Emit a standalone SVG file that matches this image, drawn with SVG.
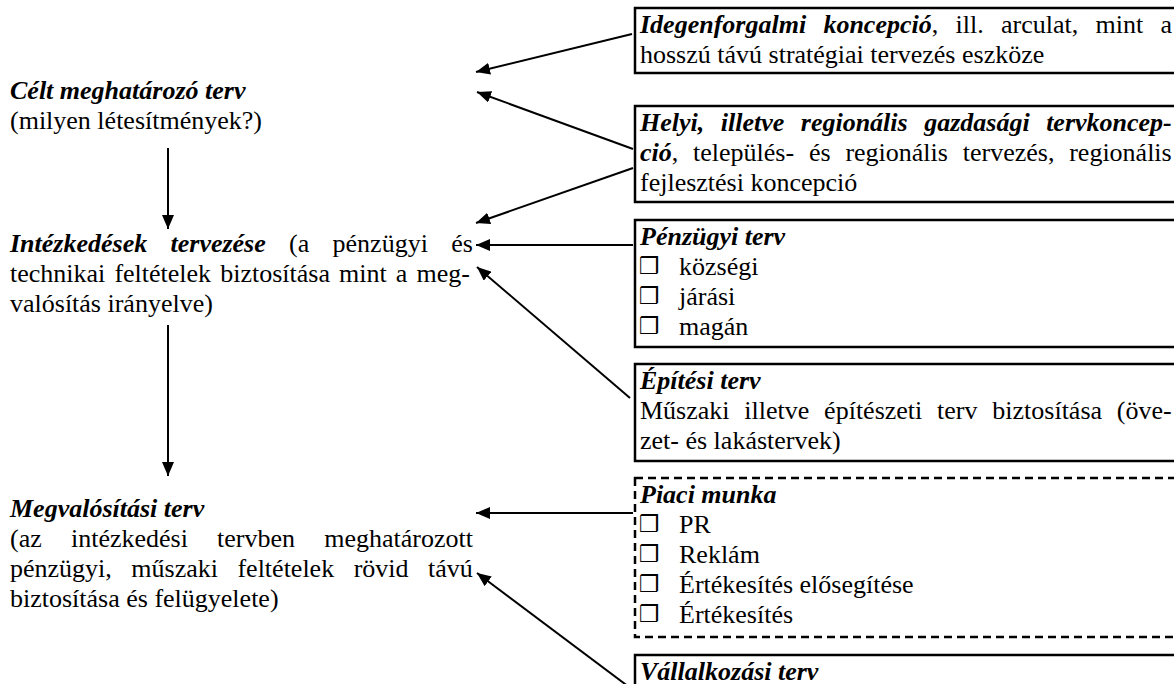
<svg xmlns="http://www.w3.org/2000/svg" width="1174" height="684" viewBox="0 0 1174 684">
<defs>
<style>
text{font-family:"Liberation Serif","Times New Roman",serif;font-size:26px;fill:#000}
.bi{font-weight:bold;font-style:italic}
.bul{font-family:"DejaVu Sans",sans-serif;font-size:23px}
.box{fill:#fff;stroke:#000;stroke-width:2.5}
.dash{fill:#fff;stroke:#000;stroke-width:2.5;stroke-dasharray:8 5}
.con line{stroke:#000;stroke-width:2;marker-end:url(#ah)}
</style>
<marker id="ah" markerUnits="userSpaceOnUse" markerWidth="16" markerHeight="12" refX="14" refY="6" orient="auto">
<path d="M0,0 L14,6 L0,12 Z" fill="#000"/>
</marker>
</defs>
<rect width="1174" height="684" fill="#fff"/>

<g id="celt">
<text x="10" y="99" class="bi">Célt meghatározó terv</text>
<text x="10" y="129">(milyen létesítmények?)</text>
</g>

<g id="intezkedesek">
<text x="10" y="252" style="word-spacing:16.8px"><tspan class="bi">Intézkedések tervezése</tspan> (a pénzügyi és</text>
<text x="10" y="282" style="word-spacing:2.6px">technikai feltételek biztosítása mint a meg-</text>
<text x="10" y="312">valósítás irányelve)</text>
</g>

<g id="megvalositasi">
<text x="10" y="517" class="bi">Megvalósítási terv</text>
<text x="10" y="547" style="word-spacing:22.7px">(az intézkedési tervben meghatározott</text>
<text x="10" y="577" style="word-spacing:13px">pénzügyi, műszaki feltételek rövid távú</text>
<text x="10" y="607">biztosítása és felügyelete)</text>
</g>

<g id="idegenforgalmi">
<rect class="box" x="635" y="8" width="560" height="65"/>
<text x="640" y="33" style="word-spacing:10.8px"><tspan class="bi">Idegenforgalmi koncepció</tspan>, ill. arculat, mint a</text>
<text x="640" y="63">hosszú távú stratégiai tervezés eszköze</text>
</g>

<g id="helyi">
<rect class="box" x="635" y="106" width="560" height="96"/>
<text x="640" y="131" class="bi" style="word-spacing:10px">Helyi, illetve regionális gazdasági tervkoncep-</text>
<text x="640" y="161" style="word-spacing:8.3px"><tspan class="bi">ció</tspan>, település- és regionális tervezés, regionális</text>
<text x="640" y="191">fejlesztési koncepció</text>
</g>

<g id="penzugyi">
<rect class="box" x="635" y="220" width="560" height="127"/>
<text x="640" y="245" class="bi">Pénzügyi terv</text>
<text x="639" y="274" class="bul">❒</text><text x="679" y="275">községi</text>
<text x="639" y="304" class="bul">❒</text><text x="679" y="305">járási</text>
<text x="639" y="334" class="bul">❒</text><text x="679" y="335">magán</text>
</g>

<g id="epitesi">
<rect class="box" x="635" y="364" width="560" height="97"/>
<text x="640" y="389" class="bi">Építési terv</text>
<text x="640" y="419" style="word-spacing:8.3px">Műszaki illetve építészeti terv biztosítása (öve-</text>
<text x="640" y="449">zet- és lakástervek)</text>
</g>

<g id="piaci">
<rect class="dash" x="635" y="478" width="560" height="159"/>
<text x="640" y="503" class="bi">Piaci munka</text>
<text x="639" y="532" class="bul">❒</text><text x="679" y="533">PR</text>
<text x="639" y="562" class="bul">❒</text><text x="679" y="563">Reklám</text>
<text x="639" y="592" class="bul">❒</text><text x="679" y="593">Értékesítés elősegítése</text>
<text x="639" y="622" class="bul">❒</text><text x="679" y="623">Értékesítés</text>
</g>

<g id="vallalkozasi">
<rect class="box" x="635" y="655" width="560" height="60"/>
<text x="640" y="680" class="bi">Vállalkozási terv</text>
</g>

<g id="connectors" class="con">
<line x1="168" y1="148" x2="168" y2="229"/>
<line x1="168" y1="325" x2="168" y2="476"/>
<line x1="632" y1="34" x2="476" y2="72"/>
<line x1="633" y1="149" x2="477" y2="92"/>
<line x1="633" y1="168" x2="476" y2="223"/>
<line x1="633" y1="245" x2="476" y2="245"/>
<line x1="630" y1="398" x2="477" y2="267"/>
<line x1="633" y1="513" x2="476" y2="513"/>
<line x1="633" y1="690" x2="477" y2="573"/>
</g>
</svg>
